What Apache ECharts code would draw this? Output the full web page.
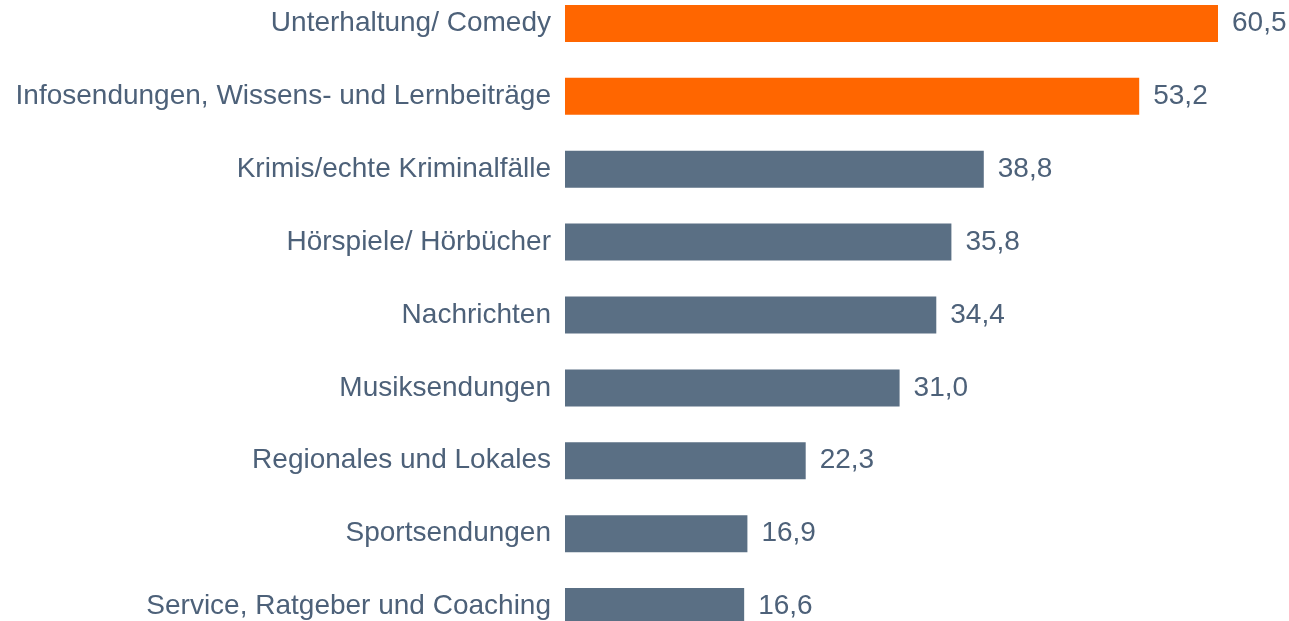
<!DOCTYPE html>
<html>
<head>
<meta charset="utf-8">
<script src="https://cdn.jsdelivr.net/npm/echarts@6/dist/echarts.min.js"></script>
<style>
  html, body { margin: 0; padding: 0; background: #fff; }
  #chart { width: 1289px; height: 621px; }
</style>
</head>
<body>
<div id="chart"></div>
<script>
const categories = [
  'Unterhaltung/ Comedy',
  'Infosendungen, Wissens- und Lernbeiträge',
  'Krimis/echte Kriminalfälle',
  'Hörspiele/ Hörbücher',
  'Nachrichten',
  'Musiksendungen',
  'Regionales und Lokales',
  'Sportsendungen',
  'Service, Ratgeber und Coaching'
];
const values = [60.5, 53.2, 38.8, 35.8, 34.4, 31.0, 22.3, 16.9, 16.6];
const highlighted = [true, true, false, false, false, false, false, false, false];

const ORANGE = '#ff6600';
const SLATE = '#5a6f84';
const TEXT = '#4d6179';
const FONT = '"Liberation Sans", Arial, sans-serif';

const chart = echarts.init(document.getElementById('chart'));

chart.setOption({
  animation: false,
  grid: {
    left: 565,
    width: 653,
    top: -13,
    height: 656,
    outerBoundsMode: 'none'
  },
  xAxis: {
    type: 'value',
    min: 0,
    max: 60.5,
    show: false
  },
  yAxis: {
    type: 'category',
    inverse: true,
    data: categories,
    axisLine: { show: false },
    axisTick: { show: false },
    axisLabel: {
      margin: 14,
      color: TEXT,
      fontFamily: FONT,
      fontSize: 28
    }
  },
  series: [{
    type: 'bar',
    barWidth: 37,
    data: values.map((v, i) => ({
      value: v,
      itemStyle: { color: highlighted[i] ? ORANGE : SLATE }
    })),
    label: {
      show: true,
      position: 'right',
      distance: 14,
      color: TEXT,
      fontFamily: FONT,
      fontSize: 28,
      formatter: p => p.value.toFixed(1).replace('.', ',')
    }
  }]
});
</script>
</body>
</html>
